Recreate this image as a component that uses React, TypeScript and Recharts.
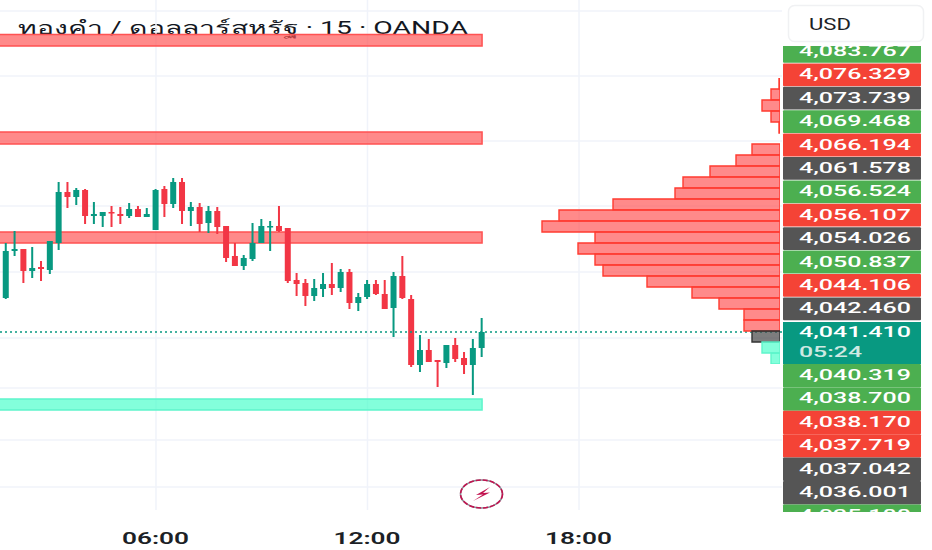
import {
  BarChart,
  Bar,
  Cell,
  CartesianGrid,
  ComposedChart,
  ReferenceArea,
  ReferenceLine,
  XAxis,
  YAxis,
} from 'recharts'

const FONT = 'Roboto, "Noto Sans", sans-serif'

// bar open time in minutes from midnight, 15 min candles
const times = [
  90, 105, 120, 135, 150, 165, 180, 195, 210, 225, 240, 255, 270, 285, 300, 315, 330, 345, 360,
  375, 390, 405, 420, 435, 450, 465, 480, 495, 510, 525, 540, 555, 570, 585, 600, 615, 630, 645,
  660, 675, 690, 705, 720, 735, 750, 765, 780, 795, 810, 825, 840, 855, 870, 885, 900, 915,
]
const opens = [
  4051.0, 4048.2, 4057.6, 4058.0, 4053.6, 4054.4, 4053.8, 4059.2, 4069.4, 4068.4, 4069.8, 4064.6,
  4064.6, 4065.4, 4065.0, 4064.6, 4066.0, 4064.4, 4061.8, 4070.0, 4067.0, 4071.4, 4065.6, 4066.4,
  4063.2, 4065.6, 4062.6, 4056.6, 4054.6, 4056.0, 4059.2, 4062.4, 4062.6, 4062.2, 4051.8, 4051.2,
  4048.6, 4050.0, 4051.0, 4050.2, 4053.4, 4047.2, 4048.4, 4051.0, 4049.0, 4046.2, 4052.6, 4048.0,
  4034.8, 4037.8, 4035.8, 4035.2, 4038.8, 4036.2, 4034.8, 4038.2,
]
const highs = [
  4051.0, 4059.2, 4061.6, 4058.0, 4058.4, 4055.6, 4059.6, 4071.4, 4071.4, 4070.2, 4070.0, 4067.4,
  4065.4, 4066.6, 4066.4, 4067.2, 4066.6, 4066.2, 4070.0, 4070.6, 4072.2, 4072.2, 4067.4, 4067.2,
  4066.6, 4066.4, 4062.6, 4059.2, 4056.8, 4063.2, 4064.0, 4063.6, 4066.6, 4062.2, 4053.2, 4052.0,
  4052.0, 4053.2, 4055.2, 4054.0, 4054.0, 4049.2, 4051.8, 4051.8, 4051.8, 4053.4, 4056.6, 4048.8,
  4040.8, 4040.0, 4035.8, 4038.8, 4040.2, 4037.4, 4040.0, 4044.2,
]
const lows = [
  4048.2, 4048.0, 4056.6, 4051.2, 4052.2, 4051.6, 4053.0, 4057.8, 4066.2, 4066.8, 4063.0, 4063.0,
  4062.4, 4062.4, 4063.0, 4064.2, 4064.4, 4064.4, 4061.8, 4064.4, 4066.2, 4063.0, 4062.6, 4061.4,
  4061.2, 4061.0, 4055.4, 4054.6, 4053.8, 4055.6, 4059.2, 4057.6, 4061.4, 4051.2, 4048.6, 4046.6,
  4047.6, 4048.4, 4048.8, 4049.4, 4046.0, 4045.6, 4048.0, 4048.8, 4046.0, 4040.4, 4048.0, 4034.4,
  4033.4, 4035.4, 4030.4, 4034.2, 4035.4, 4033.0, 4028.8, 4036.4,
]
const closes = [
  4048.2, 4057.6, 4058.0, 4053.6, 4054.2, 4054.0, 4059.6, 4069.4, 4068.4, 4069.8, 4064.6, 4065.0,
  4065.4, 4065.2, 4064.6, 4066.0, 4064.4, 4065.0, 4069.8, 4067.0, 4071.4, 4065.6, 4066.4, 4063.0,
  4065.6, 4062.4, 4056.2, 4054.6, 4056.2, 4059.2, 4062.6, 4062.6, 4061.6, 4051.6, 4051.0, 4048.6,
  4050.2, 4051.0, 4050.2, 4053.4, 4047.2, 4048.4, 4051.0, 4049.0, 4046.0, 4052.6, 4048.2, 4034.8,
  4037.8, 4035.4, 4035.4, 4038.8, 4036.0, 4034.8, 4038.2, 4041.4,
]

const lastPrice = 4041.4
const gridPrices = [4105.6, 4092.6, 4079.6, 4066.6, 4053.4, 4040.2, 4030.2, 4019.8, 4010.4]
const gridTimes = [360, 720, 1080]

// supply and demand zones
const redZoneTops = [4100.9, 4081.4, 4061.4]
const redZoneBottoms = [4098.6, 4079.0, 4059.2]
const tealZoneTop = 4028.0
const tealZoneBottom = 4025.8
const zoneEnd = 915

// volume profile rows, top to bottom
const profilePrices = [
  4091.1, 4088.9, 4086.7, 4084.5, 4082.3, 4080.1, 4077.9, 4075.7, 4073.5, 4071.3, 4069.1, 4066.9,
  4064.7, 4062.5, 4060.3, 4058.1, 4055.9, 4053.7, 4051.5, 4049.3, 4047.1, 4044.9, 4042.7, 4040.5,
  4038.3, 4036.1,
]
const profileVolumes = [
  1, 9, 18, 9, 1, 0, 28, 44, 70, 97, 105, 167, 221, 238, 185, 202, 185, 177, 133, 88, 61, 36, 36,
  28, 18, 9,
]
const profileKinds = [
  'r', 'r', 'r', 'r', 'r', 'r', 'r', 'r', 'r', 'r', 'r', 'r', 'r', 'r', 'r', 'r', 'r', 'r', 'r',
  'r', 'r', 'r', 'r', 'g', 't', 't',
]

const upperLabels = [
  '4,083.767', '4,076.329', '4,073.739', '4,069.468', '4,066.194', '4,061.578',
  '4,056.524', '4,056.107', '4,054.026', '4,050.837', '4,044.106', '4,042.460',
]
const lowerLabels = [
  '4,040.319', '4,038.700', '4,038.170', '4,037.719', '4,037.042', '4,036.001', '4,035.188',
]
const upperLabelColors = ['#4caf50', '#f44336', '#555555']
const lowerLabelColors = ['#4caf50', '#4caf50', '#f44336', '#f44336', '#555555', '#555555', '#4caf50']

const candles = times.map((time, i) => ({
  time,
  open: opens[i],
  high: highs[i],
  low: lows[i],
  close: closes[i],
}))
const profile = profilePrices.map((price, i) => ({ price, volume: profileVolumes[i], kind: profileKinds[i] }))

const profileFill: Record<string, string> = {
  r: 'rgba(255,82,82,0.68)',
  g: 'rgba(70,70,70,0.7)',
  t: 'rgba(64,255,200,0.65)',
}
const profileStroke: Record<string, string> = { r: '#ff3b30', g: '#333333', t: '#5ff5cb' }

function Candle(props: any) {
  const { x, y, width, height, payload } = props
  const up = payload.close >= payload.open
  const color = up ? '#089981' : '#f23645'
  const unit = height / (payload.high - payload.low)
  const top = y + (payload.high - Math.max(payload.open, payload.close)) * unit
  const bodyHeight = Math.max(Math.abs(payload.open - payload.close) * unit, 1.5)
  return (
    <g>
      <rect x={x + width / 2 - 1} y={y} width={2} height={height} fill={color} />
      <rect x={x} y={top} width={width} height={bodyHeight} fill={color} />
    </g>
  )
}

function TimeTick({ x, y, payload }: any) {
  const hours = Math.floor(payload.value / 60)
  const label = `${String(hours).padStart(2, '0')}:00`
  return (
    <text
      x={x - 34}
      y={y + 26}
      textLength={67}
      lengthAdjust="spacingAndGlyphs"
      fontFamily={FONT}
      fontSize={17}
      fontWeight={600}
      fill="#1c1f26"
    >
      {label}
    </text>
  )
}

function PriceLabel({ top, height, color, text }: { top: number; height: number; color: string; text: string }) {
  return (
    <g>
      <rect x={783} y={top} width={138} height={height} rx={1} fill={color} />
      <text
        x={799}
        y={top + 16}
        textLength={112}
        lengthAdjust="spacingAndGlyphs"
        fontFamily={FONT}
        fontSize={15.5}
        fontWeight={500}
        fill="#ffffff"
      >
        {text}
      </text>
    </g>
  )
}

function Overlay() {
  return (
    <svg width={932} height={550} style={{ position: 'absolute', left: 0, top: 0 }}>
      <defs>
        <clipPath id="scale-clip">
          <rect x={780} y={46} width={150} height={466} />
        </clipPath>
      </defs>
      <rect x={788.5} y={5.5} width={135} height={36} rx={6} fill="#ffffff" stroke="#f0f1f3" strokeWidth={1.5} />
      <text
        x={809}
        y={30}
        textLength={42}
        lengthAdjust="spacingAndGlyphs"
        fontFamily={FONT}
        fontSize={16.5}
        fill="#1c1f26"
      >
        USD
      </text>
      <g clipPath="url(#scale-clip)">
        {upperLabels.map((text, i) => (
          <PriceLabel
            key={text}
            top={40 + i * 23.4}
            height={22.8}
            color={upperLabelColors[i % 3]}
            text={text}
          />
        ))}
        <rect x={783} y={322} width={138} height={42} fill="#089981" />
        <text
          x={799}
          y={337}
          textLength={112}
          lengthAdjust="spacingAndGlyphs"
          fontFamily={FONT}
          fontSize={15.5}
          fontWeight={500}
          fill="#ffffff"
        >
          4,041.410
        </text>
        <text
          x={799}
          y={357}
          textLength={63}
          lengthAdjust="spacingAndGlyphs"
          fontFamily={FONT}
          fontSize={15.5}
          fontWeight={500}
          fill="#cfe9e3"
        >
          05:24
        </text>
        {lowerLabels.map((text, i) => (
          <PriceLabel
            key={text}
            top={364 + i * 23.4}
            height={23.4}
            color={lowerLabelColors[i]}
            text={text}
          />
        ))}
      </g>
      <ellipse cx={481.5} cy={494} rx={21} ry={14} fill="#ffffff" stroke="#8a8f99" strokeWidth={1.6} />
      <ellipse
        cx={481.5}
        cy={494}
        rx={21}
        ry={14}
        fill="none"
        stroke="#c2134f"
        strokeWidth={1.6}
        strokeDasharray="5 2"
      />
      <path d="M490 487 L476 495 L483 494.5 L473 501 L490 492.5 L483 493 Z" fill="#c2134f" />
    </svg>
  )
}

export default function App() {
  return (
    <div style={{ position: 'absolute', left: 0, top: 0, width: 932, height: 550, background: '#ffffff', overflow: 'hidden' }}>
      <svg width={932} height={60} style={{ position: 'absolute', left: 0, top: 0 }}>
        <text
          x={18}
          y={34}
          textLength={450}
          lengthAdjust="spacingAndGlyphs"
          fontFamily={FONT}
          fontSize={18}
          fill="#131722"
        >
          ทองคำ / ดอลลาร์สหรัฐ · 15 · OANDA
        </text>
      </svg>

      <div style={{ position: 'absolute', left: 0, top: 0 }}>
        <ComposedChart width={782} height={550} data={candles} margin={{ top: 0, right: 0, bottom: 0, left: 0 }}>
          <CartesianGrid
            stroke="#f0f3fa"
            strokeWidth={1.5}
            horizontalValues={gridPrices}
            verticalValues={gridTimes}
          />
          <XAxis
            dataKey="time"
            type="number"
            domain={[94.5, 1425.5]}
            allowDataOverflow
            ticks={gridTimes}
            height={40}
            axisLine={false}
            tickLine={false}
            tick={<TimeTick />}
          />
          <YAxis hide type="number" domain={[4005.8, 4107.8]} allowDataOverflow />
          <Bar
            dataKey={(d: any) => [d.low, d.high]}
            barSize={6}
            shape={<Candle />}
            isAnimationActive={false}
          />
          {redZoneTops.map((top, i) => (
            <ReferenceArea
              key={top}
              x1={90}
              x2={zoneEnd}
              y1={redZoneBottoms[i]}
              y2={top}
              ifOverflow="visible"
              fill="#ff5252"
              fillOpacity={0.68}
              stroke="#ff5252"
              strokeWidth={1.5}
            />
          ))}
          <ReferenceArea
            x1={90}
            x2={zoneEnd}
            y1={tealZoneBottom}
            y2={tealZoneTop}
            ifOverflow="visible"
            fill="#40ffc8"
            fillOpacity={0.65}
            stroke="#5ff5cb"
            strokeWidth={1.5}
          />
          <ReferenceLine y={lastPrice} stroke="#089981" strokeWidth={1.5} strokeDasharray="2 3" />
        </ComposedChart>
      </div>

      <div style={{ position: 'absolute', left: 530, top: 78 }}>
        <BarChart
          width={250}
          height={286}
          layout="vertical"
          data={profile}
          barCategoryGap={0}
          margin={{ top: 0, right: 0, bottom: 0, left: 0 }}
        >
          <XAxis hide type="number" domain={[0, 250]} reversed />
          <YAxis hide type="category" dataKey="price" />
          <Bar dataKey="volume" strokeWidth={1.4} isAnimationActive={false}>
            {profile.map((row) => (
              <Cell key={row.price} fill={profileFill[row.kind]} stroke={profileStroke[row.kind]} />
            ))}
          </Bar>
        </BarChart>
      </div>

      <Overlay />
    </div>
  )
}
